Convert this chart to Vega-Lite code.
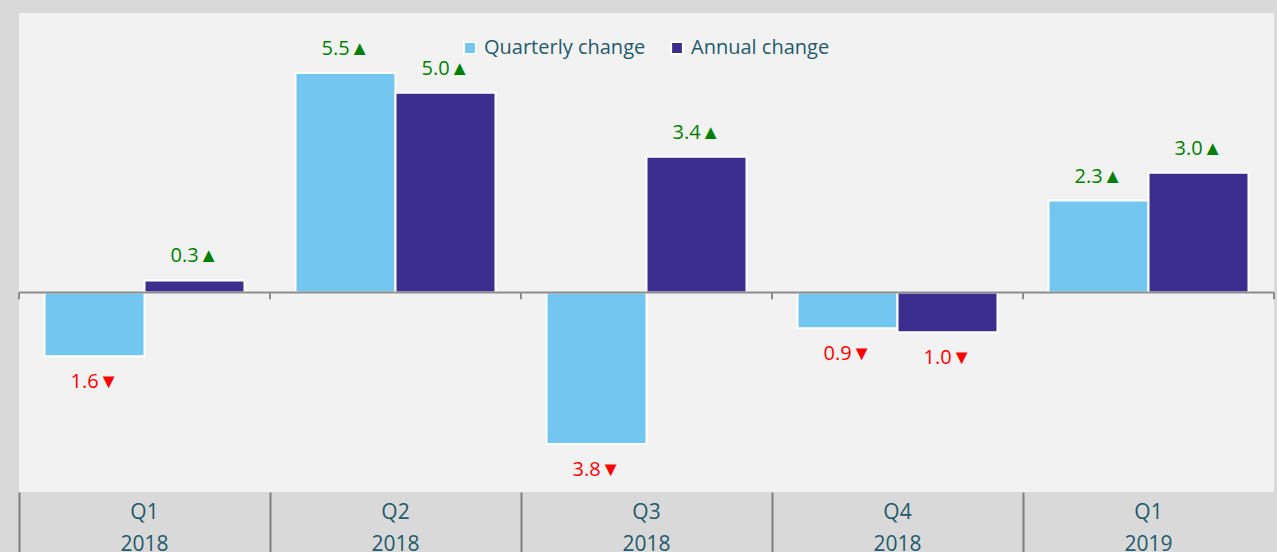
{
  "$schema": "https://vega.github.io/schema/vega-lite/v6.json",
  "width": 1255,
  "height": 479,
  "autosize": {"type": "none"},
  "padding": {"left": 19, "top": 13, "right": 3, "bottom": 60},
  "background": "#d9d9d9",
  "config": {
    "view": {"fill": "#f2f2f2", "stroke": null},
    "font": "Open Sans"
  },
  "data": {
    "values": [
      {"quarter": "Q1 2018", "series": "Quarterly change", "value": -1.6, "label": "1.6▼"},
      {"quarter": "Q1 2018", "series": "Annual change", "value": 0.3, "label": "0.3▲"},
      {"quarter": "Q2 2018", "series": "Quarterly change", "value": 5.5, "label": "5.5▲"},
      {"quarter": "Q2 2018", "series": "Annual change", "value": 5.0, "label": "5.0▲"},
      {"quarter": "Q3 2018", "series": "Quarterly change", "value": -3.8, "label": "3.8▼"},
      {"quarter": "Q3 2018", "series": "Annual change", "value": 3.4, "label": "3.4▲"},
      {"quarter": "Q4 2018", "series": "Quarterly change", "value": -0.9, "label": "0.9▼"},
      {"quarter": "Q4 2018", "series": "Annual change", "value": -1.0, "label": "1.0▼"},
      {"quarter": "Q1 2019", "series": "Quarterly change", "value": 2.3, "label": "2.3▲"},
      {"quarter": "Q1 2019", "series": "Annual change", "value": 3.0, "label": "3.0▲"}
    ]
  },
  "encoding": {
    "x": {
      "field": "quarter",
      "type": "nominal",
      "sort": null,
      "scale": {"paddingInner": 0, "paddingOuter": 0},
      "axis": {
        "title": null,
        "domain": false,
        "bandPosition": 0,
        "ticks": true,
        "tickSize": 62,
        "tickColor": "#7f7f7f",
        "tickWidth": 2,
        "labelAngle": 0,
        "labelBaseline": "top",
        "labelPadding": -53,
        "labelFontSize": 21,
        "labelColor": "#235a6c",
        "labelLineHeight": 32,
        "labelExpr": "split(datum.label, ' ')"
      }
    },
    "xOffset": {
      "field": "series",
      "type": "nominal",
      "sort": ["Quarterly change", "Annual change"],
      "scale": {"paddingInner": 0, "paddingOuter": 0.255}
    },
    "y": {
      "field": "value",
      "type": "quantitative",
      "scale": {"domain": [-5, 7], "nice": false, "zero": false},
      "axis": null
    }
  },
  "layer": [
    {
      "mark": {"type": "bar", "stroke": "white", "strokeWidth": 2},
      "encoding": {
        "color": {
          "field": "series",
          "type": "nominal",
          "sort": ["Quarterly change", "Annual change"],
          "scale": {"domain": ["Quarterly change", "Annual change"], "range": ["#73c6f0", "#3c2e8f"]},
          "legend": {
            "title": null,
            "orient": "none",
            "legendX": 441,
            "legendY": 25,
            "direction": "horizontal",
            "padding": 0,
            "symbolType": "square",
            "symbolSize": 140,
            "symbolStrokeColor": "white",
            "symbolStrokeWidth": 2,
            "symbolOpacity": 1,
            "labelFontSize": 20,
            "labelLimit": 0,
            "labelColor": "#235a6c",
            "labelOffset": 4,
            "columnPadding": 21
          }
        }
      }
    },
    {
      "transform": [{"filter": "datum.value >= 0"}],
      "mark": {"type": "text", "baseline": "middle", "align": "center", "dy": -24, "fontSize": 20, "color": "#008000"},
      "encoding": {"text": {"field": "label"}}
    },
    {
      "transform": [{"filter": "datum.value < 0"}],
      "mark": {"type": "text", "baseline": "middle", "align": "center", "dy": 26, "fontSize": 20, "color": "#ff0000"},
      "encoding": {"text": {"field": "label"}}
    },
    {
      "data": {"values": [{"zero": 0}]},
      "mark": {"type": "rule", "color": "#8c8c8c", "strokeWidth": 2},
      "encoding": {
        "x": null,
        "xOffset": null,
        "y": {"field": "zero", "type": "quantitative"}
      }
    },
    {
      "data": {"values": [
        {"quarter": "Q1 2018", "top": 0, "bottom": -0.17},
        {"quarter": "Q2 2018", "top": 0, "bottom": -0.17},
        {"quarter": "Q3 2018", "top": 0, "bottom": -0.17},
        {"quarter": "Q4 2018", "top": 0, "bottom": -0.17},
        {"quarter": "Q1 2019", "top": 0, "bottom": -0.17}
      ]},
      "mark": {"type": "rule", "color": "#8c8c8c", "strokeWidth": 2},
      "encoding": {
        "x": {"field": "quarter", "type": "nominal", "sort": null, "bandPosition": 0},
        "xOffset": null,
        "y": {"field": "top", "type": "quantitative"},
        "y2": {"field": "bottom"}
      }
    },
    {
      "data": {"values": [
        {"quarter": "Q1 2019", "top": 0, "bottom": -0.17}
      ]},
      "mark": {"type": "rule", "color": "#8c8c8c", "strokeWidth": 2},
      "encoding": {
        "x": {"field": "quarter", "type": "nominal", "sort": null, "bandPosition": 1},
        "xOffset": null,
        "y": {"field": "top", "type": "quantitative"},
        "y2": {"field": "bottom"}
      }
    }
  ]
}
